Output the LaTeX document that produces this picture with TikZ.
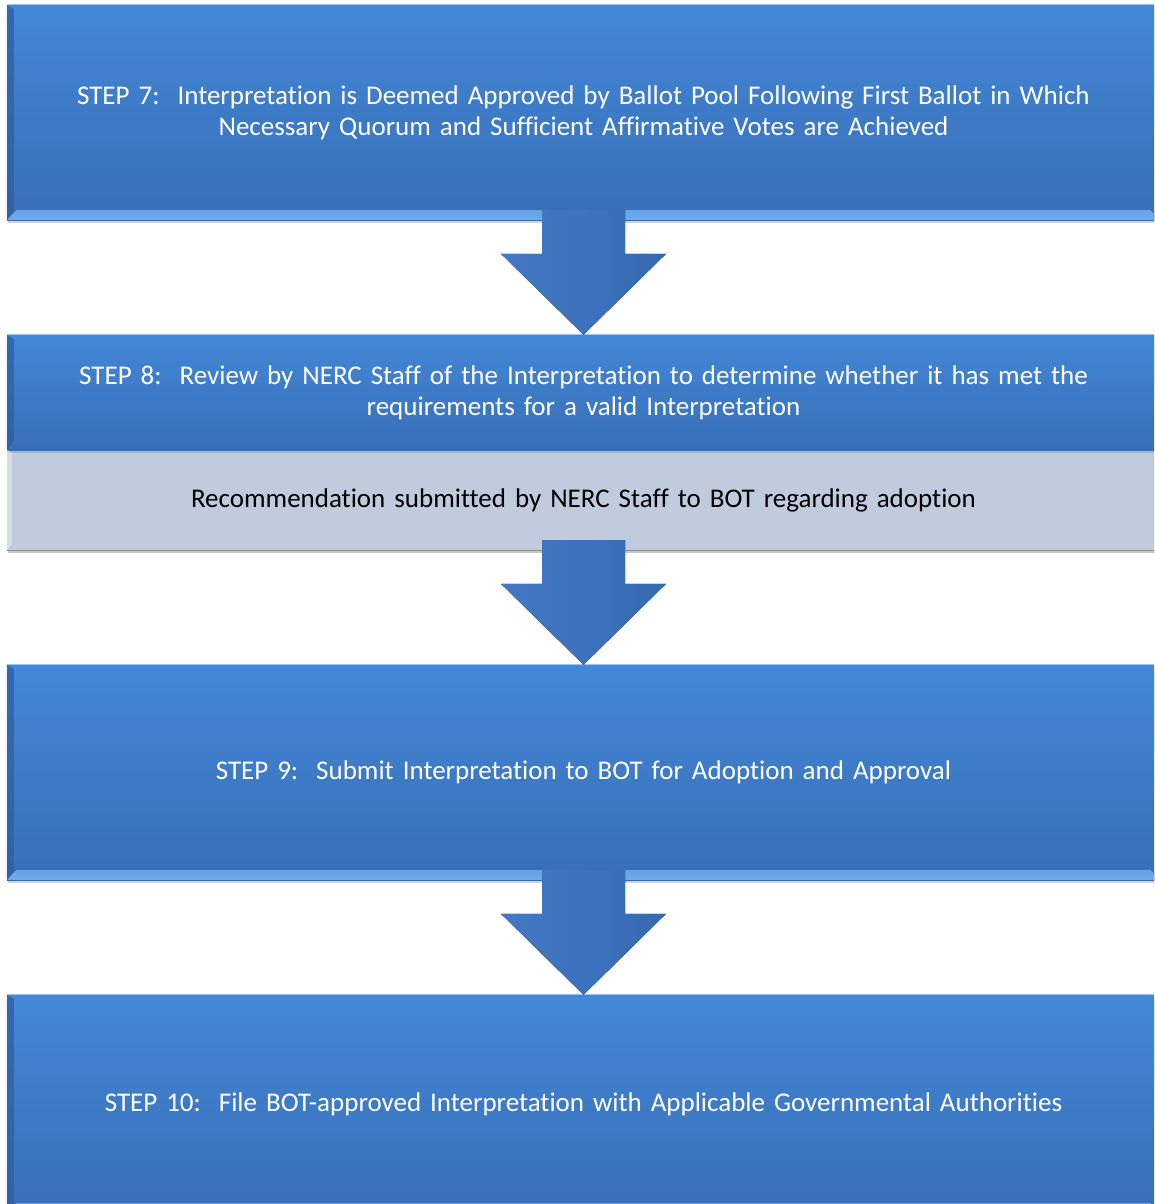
\documentclass[tikz,border=0pt]{standalone}
\usepackage{fontspec}
\setmainfont{Carlito}[Ligatures={NoCommon}]
\usetikzlibrary{calc,shadows}

\definecolor{steptop}{RGB}{67,136,216}
\definecolor{stepbot}{RGB}{56,110,182}
\definecolor{bevlight}{RGB}{112,170,238}
\definecolor{bevdark}{RGB}{44,92,164}
\definecolor{notegray}{RGB}{192,203,222}
\definecolor{arrowblue}{RGB}{60,114,190}

\newcommand\stepfont{\fontsize{27}{31}\selectfont}

% block arrow from the bottom of #1 down to the top of #2
\newcommand\downblock[2]{%
    \fill[arrowblock] let \p1=(#1.south), \p2=(#2.north) in
    (\x2-41.5pt,\y1+10pt) -- (\x2-41.5pt,\y2+81pt)
    -- (\x2-82.5pt,\y2+81pt) -- (\x2,\y2) -- (\x2+82.5pt,\y2+81pt)
    -- (\x2+41.5pt,\y2+81pt) -- (\x2+41.5pt,\y1+10pt) -- cycle;
    }

\begin{document}
\begin{tikzpicture}[x={(1pt,0pt)},y={(0pt,-1pt)},
    stepbox/.style={rectangle,minimum width=1153pt,inner sep=0pt,
        text width=1120pt,align=center,text=white,font=\stepfont,
        top color=steptop,bottom color=stepbot,
        drop shadow={shadow xshift=1pt,shadow yshift=-3pt,opacity=.35}},
    notebox/.style={rectangle,minimum width=1153pt,inner sep=0pt,
        text width=1120pt,align=center,text=black,font=\stepfont,
        fill=notegray,
        drop shadow={shadow xshift=1pt,shadow yshift=-3pt,opacity=.45}},
    arrowblock/.style={left color=arrowblue!96!white,right color=arrowblue!92!black,
        middle color=arrowblue}]
    \useasboundingbox (0,0) rectangle (1154,1204);
    \clip (0,0) rectangle (1154,1204);

    \node[stepbox,minimum height=215pt] (s7) at (583.5,112.5)
        {STEP 7:\ \ Interpretation is Deemed Approved by Ballot Pool Following First Ballot in Which\\
         Necessary Quorum and Sufficient Affirmative Votes are Achieved};
    \node[notebox,minimum height=100pt] (rec) at (583.5,500)
        {Recommendation submitted by NERC Staff to BOT regarding adoption};
    \node[stepbox,minimum height=115pt,drop shadow={opacity=0}] (s8) at (583.5,392.5)
        {STEP 8:\ \ Review by NERC Staff of the Interpretation to determine whether it has met the\\
         requirements for a valid Interpretation};
    \node[stepbox,minimum height=215pt] (s9) at (583.5,772.5)
        {STEP 9:\ \ Submit Interpretation to BOT for Adoption and Approval};
    \node[stepbox,minimum height=218pt] (s10) at (583.5,1104)
        {STEP 10:\ \ File BOT-approved Interpretation with Applicable Governmental Authorities\\[14pt]};

    % bevel edges
    \foreach \n in {s7,s9,s10} {
        \fill[top color=bevlight!80!steptop,bottom color=bevlight] (\n.south west) -- (\n.south east)
            -- ([shift={(-9pt,10pt)}]\n.south east) -- ([shift={(9pt,10pt)}]\n.south west) -- cycle;
    }
    \foreach \n in {s7,s8,s9,s10} {
        \fill[bevdark,opacity=.7] (\n.south west) -- (\n.north west)
            -- ([shift={(7pt,-4pt)}]\n.north west) -- ([shift={(7pt,10pt)}]\n.south west) -- cycle;
        \draw[bevlight!70!white,line width=1.2pt] (\n.north west) -- (\n.north east);
    }
    \fill[white,opacity=.35] (rec.south west) -- (rec.north west)
        -- ([shift={(5pt,-3pt)}]rec.north west) -- ([shift={(5pt,6pt)}]rec.south west) -- cycle;
    \draw[black!45,line width=1pt] (rec.south west) -- (rec.south east);

    % arrows between the steps
    \downblock{s7}{s8}
    \downblock{rec}{s9}
    \downblock{s9}{s10}
\end{tikzpicture}
\end{document}
